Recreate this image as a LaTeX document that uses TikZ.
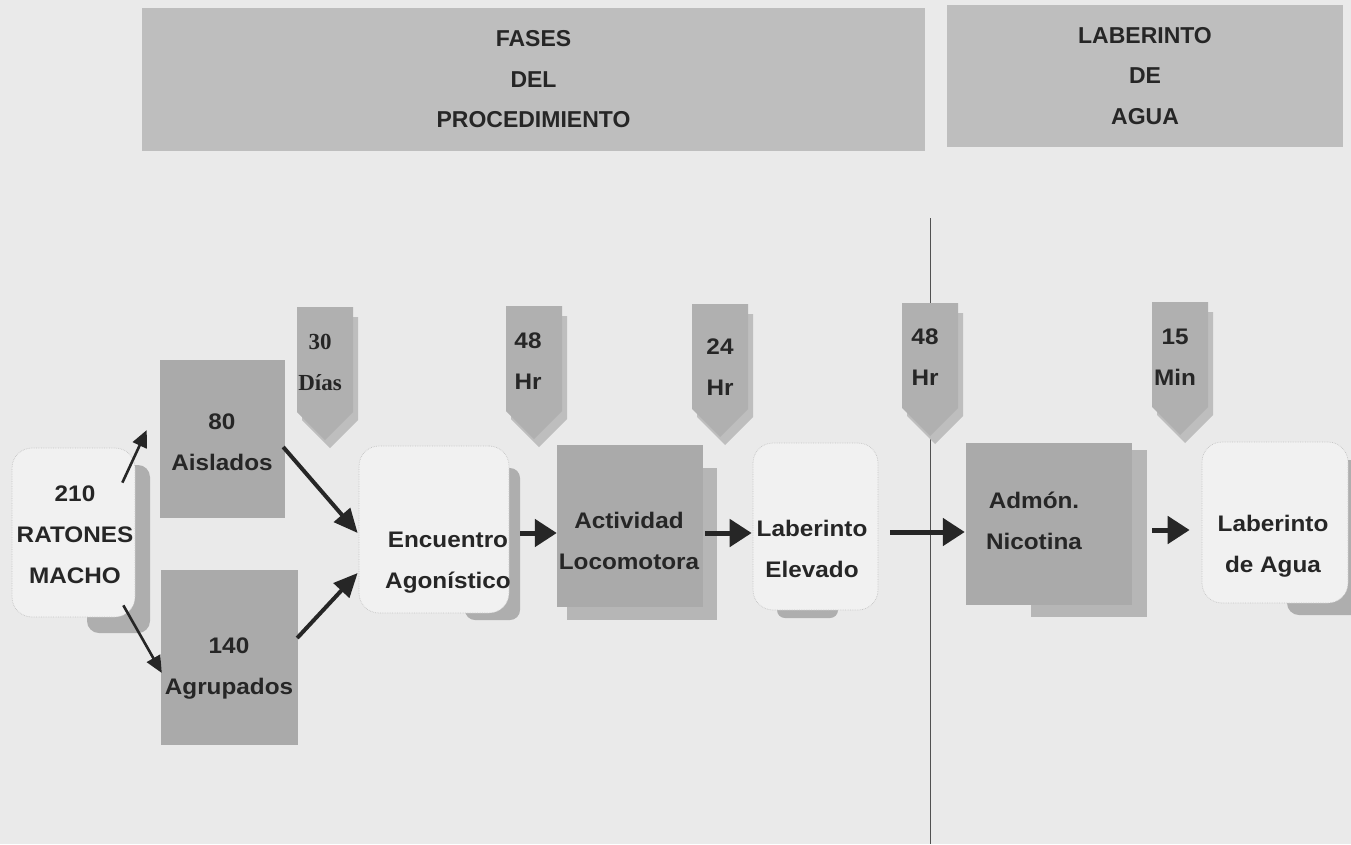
\documentclass[tikz,border=0pt]{standalone}
\usepackage{fontspec}
\setmainfont{Liberation Sans}
\newfontfamily\boxfont{Liberation Sans}[FakeStretch=1.08]
\newfontfamily\tagserif{Liberation Serif}
\usetikzlibrary{arrows.meta,calc}

\definecolor{paper}{RGB}{234,234,234}
\definecolor{headf}{RGB}{190,190,190}
\definecolor{darkf}{RGB}{170,170,170}
\definecolor{darksh}{RGB}{182,182,182}
\definecolor{lightf}{RGB}{241,241,241}
\definecolor{lightedge}{RGB}{196,196,196}
\definecolor{lightsh}{RGB}{174,174,174}
\definecolor{tagf}{RGB}{176,176,176}
\definecolor{tagsh}{RGB}{190,190,190}
\definecolor{ink}{RGB}{38,38,38}

\tikzset{
  headbox/.style={fill=headf, inner sep=0pt, text=ink, align=center,
    font=\bfseries\fontsize{23}{40.5}\selectfont},
  lightbox/.style={fill=lightf, draw=lightedge, densely dotted, line width=0.7pt,
    rounded corners=20pt, inner sep=0pt},
  darkbox/.style={fill=darkf, inner sep=0pt},
  boxtxt/.style={text=ink, align=center, inner sep=0pt,
    font=\boxfont\bfseries\fontsize{22.5}{41}\selectfont},
  serifboxtxt/.style={boxtxt, font=\tagserif\bfseries\fontsize{23}{41}\selectfont},
  thinarrow/.style={draw=ink, line width=2.6pt,
    -{Triangle[length=17pt,width=15pt]}},
  midarrow/.style={draw=ink, line width=4pt,
    -{Triangle[length=24pt,width=21pt]}},
  thickarrow/.style={draw=ink, line width=5pt,
    -{Triangle[length=22pt,width=27pt]}},
  divider/.style={draw=ink!80, line width=0.9pt},
  tagshape/.pic={
    \fill[tagsh] (-23,10) -- (33,10) -- (33,113) -- (5,141) -- (-23,113) -- cycle;
    \fill[tagf] (-28,0) -- (28,0) -- (28,105) -- (0,133) -- (-28,105) -- cycle;
  }
}

\begin{document}
\begin{tikzpicture}[x=1pt,y=-1pt]
  % canvas
  \fill[paper] (0,0) rectangle (1351,844);
  \useasboundingbox (0,0) rectangle (1351,844);

  % section headers
  \node[headbox, minimum width=783pt, minimum height=143pt] (hproc) at (533.5,79.5)
    {FASES\\DEL\\PROCEDIMIENTO};
  \node[headbox, minimum width=396pt, minimum height=142pt] (hagua) at (1145,76)
    {LABERINTO\\DE\\AGUA};

  % divider between procedure and water maze
  \draw[divider] (930,218) -- (930,844);

  % time tags
  \pic at (325,307) {tagshape};
  \pic at (534,306) {tagshape};
  \pic at (720,304) {tagshape};
  \pic at (930,303) {tagshape};
  \pic at (1180,302) {tagshape};
  \node[serifboxtxt] (t30) at (320,362.5) {30\\Días};
  \node[boxtxt] (t48a) at (528,361) {48\\Hr};
  \node[boxtxt] (t24) at (720,367.5) {24\\Hr};
  \node[boxtxt] (t48b) at (925,357.5) {48\\Hr};
  \node[boxtxt] (t15) at (1175,357.5) {15\\Min};

  % drop shadows
  \fill[lightsh, rounded corners=12pt] (87,465) rectangle (150,633);
  \fill[lightsh, rounded corners=10pt] (465,468) rectangle (520,620);
  \fill[darksh] (567,468) rectangle (717,620);
  \fill[lightsh, rounded corners=8pt] (777,560) rectangle (838,618);
  \fill[darksh] (1031,450) rectangle (1147,617);
  \begin{scope}
    \clip (0,0) rectangle (1351,844);
    \fill[lightsh, rounded corners=12pt] (1287,460) rectangle (1370,615);
  \end{scope}

  % boxes
  \node[lightbox, minimum width=123pt, minimum height=169pt] (rat) at (73.5,532.5) {};
  \node[darkbox, minimum width=125pt, minimum height=158pt] (ais) at (222.5,439) {};
  \node[darkbox, minimum width=137pt, minimum height=175pt] (agr) at (229.5,657.5) {};
  \node[lightbox, minimum width=150pt, minimum height=167pt] (enc) at (434,529.5) {};
  \node[darkbox, minimum width=146pt, minimum height=162pt] (act) at (630,526) {};
  \node[lightbox, minimum width=125pt, minimum height=167pt] (lab) at (815.5,526.5) {};
  \node[darkbox, minimum width=166pt, minimum height=162pt] (adm) at (1049,524) {};
  \node[lightbox, minimum width=146pt, minimum height=161pt] (agu) at (1275,522.5) {};

  % box labels
  \node[boxtxt] (ratT) at (75,535) {210\\RATONES\\MACHO};
  \node[boxtxt] (aisT) at (222,442.5) {80\\Aislados};
  \node[boxtxt] (agrT) at (229,669) {140\\Agrupados};
  \node[boxtxt] (encT) at (448,562.5) {Encuentro\\Agonístico};
  \node[boxtxt] (actT) at (629,540.5) {Actividad\\Locomotora};
  \node[boxtxt] (labT) at (812,548.5) {Laberinto\\Elevado};
  \node[boxtxt] (admT) at (1034,521) {Admón.\\Nicotina};
  \node[boxtxt] (aguT) at (1273,546) {Laberinto\\de Agua};

  % connectors
  \draw[thinarrow] ($(rat.north east)+(-13,35)$) -- ($(ais.west)+(-13,-9)$);
  \draw[thinarrow] ($(rat.south east)+(-12,-12)$) -- ($(agr.west)+(1,15.5)$);
  \draw[midarrow] ($(ais.east)+(-2,8)$) -- ($(enc.west)+(-1,3.5)$);
  \draw[midarrow] ($(agr.east)+(-1,-19.5)$) -- ($(enc.west)+(-1,43.5)$);
  \draw[thickarrow] ($(enc.east)+(11,3.5)$) -- ($(act.west)+(0,7)$);
  \draw[thickarrow] ($(act.east)+(2,7)$) -- ($(lab.west)+(-1,6.5)$);
  \draw[thickarrow] ($(lab.east)+(12,5.5)$) -- ($(adm.west)+(-1,8)$);
  \draw[thickarrow] ($(adm.east)+(20,6)$) -- ($(agu.west)+(-12,7.5)$);
\end{tikzpicture}
\end{document}
